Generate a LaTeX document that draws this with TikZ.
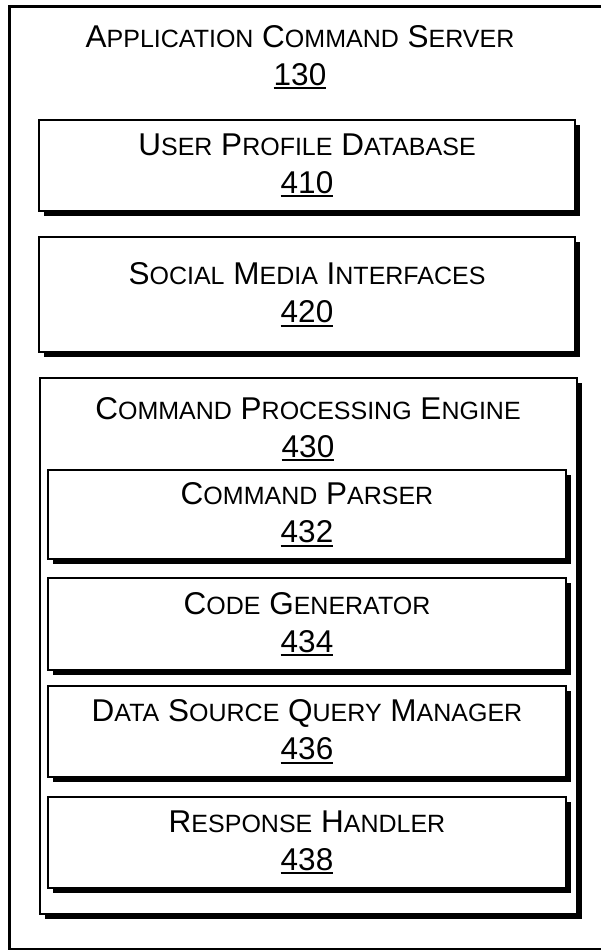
\documentclass[tikz,border=0pt]{standalone}
\usepackage{fontspec}
\setmainfont{Liberation Sans}
\usetikzlibrary{shadows}
\newcommand\SCap[2]{#1{\fontsize{25}{25}\selectfont #2}}
\newcommand\NUM[1]{\setbox0\hbox{#1}\leavevmode\rlap{\rule[-4pt]{\wd0}{2pt}}\box0}
\begin{document}
\begin{tikzpicture}[x=1pt,y=-1pt,
  lbl/.style={align=center, font=\fontsize{31.5}{38}\selectfont, inner sep=0pt},
  box/.style={draw, line width=2.2pt, fill=white, inner sep=0pt,
    drop shadow={shadow xshift=4.5pt, shadow yshift=-4.5pt, fill=black, opacity=1},
    align=center, font=\fontsize{31.5}{38}\selectfont},
  outer/.style={draw, line width=3pt, inner sep=0pt, anchor=north west}]
\useasboundingbox (0,0) rectangle (600,950);
\node[outer, minimum width=610pt, minimum height=943pt] (server) at (8,5) {};
\node[lbl, anchor=north] (t130) at (300,25) {\SCap{A}{PPLICATION} \SCap{C}{OMMAND} \SCap{S}{ERVER}\\\NUM{130}};
\node[box, minimum width=536pt, minimum height=91pt] (b410) at (307,165.5)
  {\SCap{U}{SER} \SCap{P}{ROFILE} \SCap{D}{ATABASE}\\\NUM{410}};
\node[box, minimum width=536pt, minimum height=115pt] (b420) at (307,294.5)
  {\SCap{S}{OCIAL} \SCap{M}{EDIA} \SCap{I}{NTERFACES}\\\NUM{420}};
\node[box, minimum width=537pt, minimum height=536pt] (b430) at (308.5,646) {};
\node[lbl, anchor=north] (t430) at (308,397) {\SCap{C}{OMMAND} \SCap{P}{ROCESSING} \SCap{E}{NGINE}\\\NUM{430}};
\node[box, minimum width=518pt, minimum height=89pt] (b432) at (307,514.5)
  {\SCap{C}{OMMAND} \SCap{P}{ARSER}\\\NUM{432}};
\node[box, minimum width=518pt, minimum height=92pt] (b434) at (307,624)
  {\SCap{C}{ODE} \SCap{G}{ENERATOR}\\\NUM{434}};
\node[box, minimum width=518pt, minimum height=91pt] (b436) at (307,731.5)
  {\SCap{D}{ATA} \SCap{S}{OURCE} \SCap{Q}{UERY} \SCap{M}{ANAGER}\\\NUM{436}};
\node[box, minimum width=518pt, minimum height=91pt] (b438) at (307,842.5)
  {\SCap{R}{ESPONSE} \SCap{H}{ANDLER}\\\NUM{438}};
\end{tikzpicture}
\end{document}
